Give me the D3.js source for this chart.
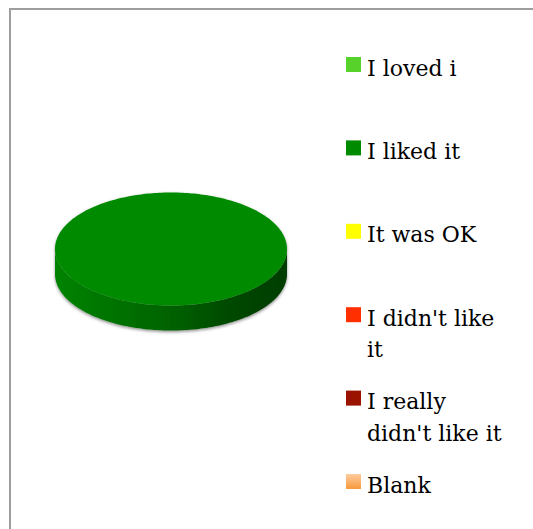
<!DOCTYPE html>
<html>
<head>
<meta charset="utf-8">
<script src="https://cdn.jsdelivr.net/npm/d3@7"></script>
<style>
  html, body { margin: 0; padding: 0; background: #ffffff; }
  svg { display: block; }
</style>
</head>
<body>
<svg id="chart" width="533" height="529"></svg>
<script>
// Survey responses (percent of answers)
const categories = ["I loved i", "I liked it", "It was OK", "I didn't like it", "I really didn't like it", "Blank"];
const values = [0, 100, 0, 0, 0, 0];
// Legend text, broken into lines as it wraps in the legend box
const legendLines = [["I loved i"], ["I liked it"], ["It was OK"], ["I didn't like", "it"], ["I really", "didn't like it"], ["Blank"]];
const colors = ["#57d22b", "#008a00", "#ffff00", "#ff2f00", "#9a1200", "#fbb06e"];

const svg = d3.select("#chart");
const W = 533, H = 529;

// Chart area frame
svg.append("rect")
  .attr("x", 10).attr("y", 9)
  .attr("width", W + 20).attr("height", H + 20)
  .attr("fill", "#ffffff")
  .attr("stroke", "#9e9e9e")
  .attr("stroke-width", 2);

const defs = svg.append("defs");

// Soft shadow under the pie
const shadow = defs.append("filter").attr("id", "pieShadow")
  .attr("x", "-10%").attr("y", "-10%").attr("width", "120%").attr("height", "130%");
shadow.append("feDropShadow")
  .attr("dx", 0).attr("dy", 1.5)
  .attr("stdDeviation", 1.8)
  .attr("flood-color", "#000000")
  .attr("flood-opacity", 0.45);

// Blank swatch gradient
const blankGrad = defs.append("linearGradient").attr("id", "blankGrad")
  .attr("x1", 0).attr("y1", 0).attr("x2", 0).attr("y2", 1);
blankGrad.append("stop").attr("offset", "0%").attr("stop-color", "#ffcb9f");
blankGrad.append("stop").attr("offset", "100%").attr("stop-color", "#f79a3c");

// 3D pie geometry
const cx = 171, cy = 249, rx = 116, ry = 56.5, depth = 25;
const pie = d3.pie().sort(null).value(d => d)
  .startAngle(0).endAngle(2 * Math.PI);
const arcs = pie(values);

// map an angle (0 = 12 o'clock, clockwise) to the tilted ellipse
const ex = d3.scaleLinear().domain([-1, 1]).range([cx - rx, cx + rx]);
const ey = d3.scaleLinear().domain([-1, 1]).range([cy - ry, cy + ry]);
const pt = a => [ex(Math.sin(a)), ey(-Math.cos(a))];

function sampleArc(a0, a1) {
  const n = Math.max(2, Math.ceil((a1 - a0) / 0.02));
  return d3.range(n + 1).map(i => pt(a0 + (a1 - a0) * i / n));
}

const line = d3.line();
const pieG = svg.append("g").attr("filter", "url(#pieShadow)");

arcs.forEach((d, i) => {
  if (d.endAngle - d.startAngle <= 0) return;
  const base = d3.color(colors[i]);
  // visible outer wall: front half of the ellipse
  const s0 = Math.max(d.startAngle, Math.PI / 2);
  const s1 = Math.min(d.endAngle, 3 * Math.PI / 2);
  if (s1 > s0) {
    const gid = "wall" + i;
    const g = defs.append("linearGradient").attr("id", gid)
      .attr("gradientUnits", "userSpaceOnUse")
      .attr("x1", cx - rx).attr("y1", 0).attr("x2", cx + rx).attr("y2", 0);
    const c = base.rgb();
    const shade = k => d3.rgb(c.r * k, c.g * k, c.b * k).formatHex();
    g.append("stop").attr("offset", "0%").attr("stop-color", shade(0.95));
    g.append("stop").attr("offset", "45%").attr("stop-color", shade(0.74));
    g.append("stop").attr("offset", "80%").attr("stop-color", shade(0.5));
    g.append("stop").attr("offset", "100%").attr("stop-color", shade(0.44));
    const topEdge = sampleArc(s0, s1);
    const botEdge = topEdge.map(p => [p[0], p[1] + depth]).reverse();
    pieG.append("path")
      .attr("d", line(topEdge.concat(botEdge)) + "Z")
      .attr("fill", "url(#" + gid + ")");
  }
});

arcs.forEach((d, i) => {
  if (d.endAngle - d.startAngle <= 0) return;
  const pts = sampleArc(d.startAngle, d.endAngle);
  const full = d.endAngle - d.startAngle >= 2 * Math.PI - 1e-9;
  const path = full ? line(pts) + "Z" : line([[cx, cy]].concat(pts)) + "Z";
  pieG.append("path").attr("d", path).attr("fill", colors[i]);
});

// Legend
const legendY = d3.scalePoint().domain(categories).range([57, 474]);
const lg = svg.append("g");
categories.forEach((cat, i) => {
  const y = legendY(cat);
  lg.append("rect")
    .attr("x", 346).attr("y", y)
    .attr("width", 15).attr("height", 15)
    .attr("fill", cat === "Blank" ? "url(#blankGrad)" : colors[i]);
  const t = lg.append("text")
    .attr("x", 367).attr("y", y + 18.5)
    .attr("font-family", "'DejaVu Serif', serif")
    .attr("font-size", 22)
    .attr("fill", "#000000");
  legendLines[i].forEach((ln, j) => {
    t.append("tspan").attr("x", 367).attr("dy", j === 0 ? 0 : 31.6).text(ln);
  });
});
</script>
</body>
</html>
